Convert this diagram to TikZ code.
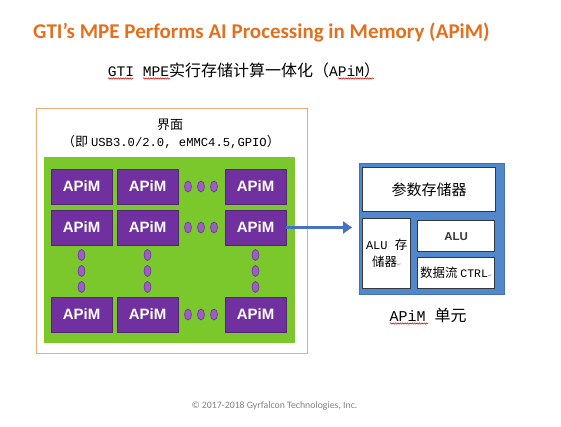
\documentclass[tikz,border=0pt]{standalone}
\usepackage{fontspec}
\setmainfont{Liberation Sans}
\newfontfamily\cjk{Noto Sans CJK SC}
\newfontfamily\titlef{Carlito}
\newfontfamily\monof{Liberation Mono}
\newfontfamily\symf{DejaVu Sans}
\usetikzlibrary{arrows.meta,decorations.pathmorphing,shapes.geometric}
\definecolor{orangeT}{RGB}{228,112,30}
\definecolor{orangeB}{RGB}{240,170,120}
\definecolor{limeG}{RGB}{122,200,44}
\definecolor{purpleB}{RGB}{112,48,160}
\definecolor{purpleD}{RGB}{155,95,195}
\definecolor{unitB}{RGB}{80,135,205}
\definecolor{arrowB}{RGB}{70,114,196}
\definecolor{innerE}{RGB}{55,55,55}
\definecolor{copyG}{RGB}{130,130,130}
\begin{document}
\begin{tikzpicture}[x=1pt,y=-1pt,
  apim/.style={draw=purpleB!75!black, fill=purpleB, line width=0.8pt, minimum width=61pt, minimum height=35pt, inner sep=0pt, text=white, font=\fontsize{15}{15}\selectfont\bfseries},
  dotn/.style={ellipse, fill=purpleD, draw=purpleB, line width=0.6pt, minimum width=7pt, minimum height=11pt, inner sep=0pt},
  ibox/.style={draw=innerE, fill=white, line width=1.3pt, inner sep=0pt, anchor=north west},
  squig/.style={draw=red!80!black, line width=0.5pt, decorate, decoration={snake, amplitude=0.7pt, segment length=2.4pt}},
  conn/.style={draw=arrowB, line width=2.8pt, -{Triangle[length=9pt,width=12pt]}}
]
\useasboundingbox (0,0) rectangle (561,427);
\fill[white] (0,0) rectangle (561,427);
% title
\node[font=\titlef\bfseries\fontsize{21}{21}\selectfont, text=orangeT] (title) at (261.5,32) {GTI’s MPE Performs AI Processing in Memory (APiM)};
\node[font=\fontsize{16}{16}\selectfont] (sub) at (244,70) {{\monof\fontsize{14.6}{16}\selectfont GTI MPE}{\cjk 实行存储计算一体化（}{\monof\fontsize{14.6}{16}\selectfont APiM}{\cjk ）}};
% left chip
\node[draw=orangeB, line width=1.4pt, anchor=north west, minimum width=271pt, minimum height=245pt, inner sep=0pt] (chip) at (36,108) {};
\node[font=\cjk\fontsize{13}{13}\selectfont] (iface) at (170,125) {界面};
\node[font=\fontsize{13}{13}\selectfont] (iface2) at (171,142) {{\cjk （即 }{\monof\fontsize{12.2}{13}\selectfont USB3.0/2.0, eMMC4.5,GPIO}{\cjk ）}};
\node[fill=limeG, anchor=north west, minimum width=251pt, minimum height=186pt, inner sep=0pt] (green) at (44,157) {};
% APiM array
\node[apim] (a11) at (81.5,186.5) {APiM};
\node[apim] (a12) at (147.5,186.5) {APiM};
\node[apim] (a13) at (255.5,186.5) {APiM};
\node[apim] (a21) at (81.5,227.5) {APiM};
\node[apim] (a22) at (147.5,227.5) {APiM};
\node[apim] (a23) at (255.5,227.5) {APiM};
\node[apim] (a31) at (81.5,314.5) {APiM};
\node[apim] (a32) at (147.5,314.5) {APiM};
\node[apim] (a33) at (255.5,314.5) {APiM};
\foreach \r/\y in {1/186.5,2/227.5,3/314.5}{
  \foreach \k/\x in {1/188,2/201,3/214}{
    \node[dotn] (h\r\k) at (\x,\y) {};
  }
}
\foreach \c/\x in {1/81.5,2/147.5,3/255.5}{
  \foreach \k/\y in {1/255,2/271,3/287}{
    \node[dotn] (v\c\k) at (\x,\y) {};
  }
}
% APiM unit
\node[fill=unitB, draw=unitB!85!black, line width=0.8pt, anchor=north west, minimum width=145pt, minimum height=131pt, inner sep=0pt] (unit) at (359,163) {};
\node[ibox, minimum width=133pt, minimum height=44pt] (param) at (362,167) {};
\node[font=\cjk\fontsize{15}{15}\selectfont] (paramt) at (param.center) {参数存储器};
\node[ibox, minimum width=48pt, minimum height=70pt] (alum) at (362,218) {};
\node[font=\fontsize{12.5}{17}\selectfont, align=center] (alumt) at (alum.center) {{\monof\fontsize{12}{17}\selectfont ALU }{\cjk 存}\\{\cjk 储器}{\symf\fontsize{5}{5}\selectfont\color{gray}↵}};
\node[ibox, minimum width=77pt, minimum height=31pt] (alu) at (417,220) {};
\node[font=\fontsize{11.5}{11.5}\selectfont\bfseries, text=innerE] (alut) at (alu.center) {ALU};
\node[ibox, minimum width=77pt, minimum height=31pt] (ctrl) at (417,257) {};
\node[font=\fontsize{12.5}{12.5}\selectfont] (ctrlt) at (ctrl.center) {{\cjk 数据流 }{\monof\fontsize{11.5}{12}\selectfont CTRL}{\symf\fontsize{5}{5}\selectfont\color{gray}↵}};
\node[font=\fontsize{16}{16}\selectfont] (unitl) at (428,315) {{\monof\fontsize{15}{16}\selectfont APiM }{\cjk 单元}};
% arrow
\coordinate (tip) at (352,227);
\draw[conn] (a23.east) -- (a23.east -| tip);
% spell-check underlines
\draw[squig] (108,78.5) -- (133,78.5);
\draw[squig] (143,78.5) -- (170,78.5);
\draw[squig] (338,78.5) -- (374,78.5);
\draw[squig] (390,323.5) -- (428,323.5);
% copyright
\node[font=\titlef\fontsize{9.8}{9.8}\selectfont, text=copyG] (copy) at (274.5,406) {© 2017-2018 Gyrfalcon Technologies, Inc.};
\end{tikzpicture}
\end{document}
